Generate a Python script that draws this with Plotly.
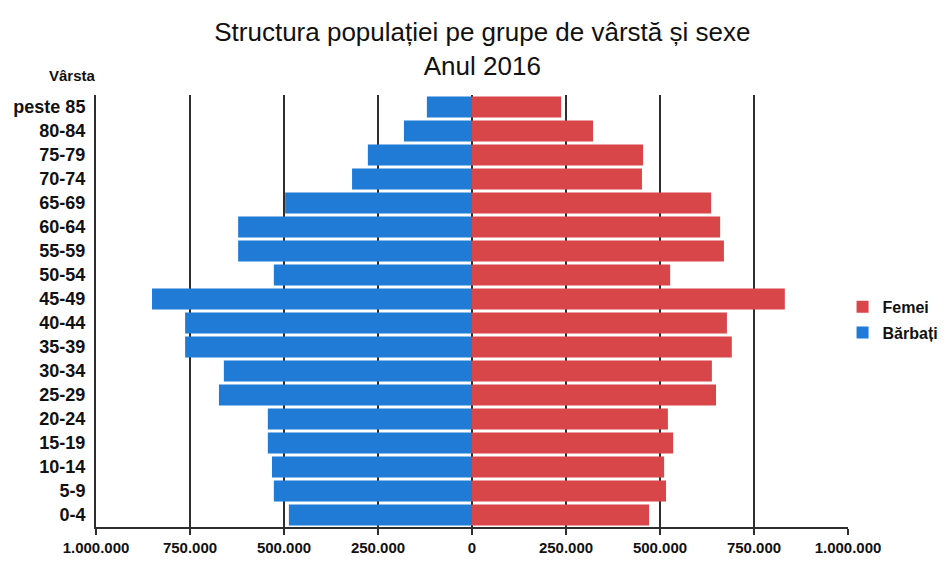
import plotly.graph_objects as go

# Age groups, bottom to top
age_groups = ["0-4", "5-9", "10-14", "15-19", "20-24", "25-29", "30-34", "35-39",
              "40-44", "45-49", "50-54", "55-59", "60-64", "65-69", "70-74",
              "75-79", "80-84", "peste 85"]

# Values (persons)
femei = [471000, 516000, 511000, 535000, 521000, 649000, 638000, 691000,
         678000, 832000, 527000, 670000, 660000, 636000, 452000,
         455000, 322000, 237000]
barbati = [487000, 527000, 532000, 543000, 543000, 673000, 660000, 763000,
           763000, 851000, 527000, 622000, 622000, 497000, 319000,
           277000, 181000, 120000]

tick_vals = [-1000000, -750000, -500000, -250000, 0, 250000, 500000, 750000, 1000000]
tick_text = ["1.000.000", "750.000", "500.000", "250.000", "0",
             "250.000", "500.000", "750.000", "1.000.000"]

fig = go.Figure()

fig.add_trace(go.Bar(
    y=age_groups,
    x=femei,
    orientation='h',
    name="Femei",
    legendgroup="f",
    marker=dict(color="#d9464a", line=dict(width=0)),
))

fig.add_trace(go.Bar(
    y=age_groups,
    x=[-v for v in barbati],
    orientation='h',
    name="Bărbați",
    legendgroup="b",
    marker=dict(color="#1f7bd6", line=dict(width=0)),
))

# page body has an 8px default margin, so the figure is sized to fit inside the window
fig.update_layout(
    barmode='relative',
    bargap=0.12,
    width=943,
    height=554,
    paper_bgcolor='white',
    plot_bgcolor='white',
    margin=dict(l=88, r=103, t=87, b=35, autoexpand=False),
    font=dict(family="Liberation Sans, Arial, sans-serif", color="#111111"),
    title=dict(
        text="Structura populației pe grupe de vârstă și sexe<br>Anul 2016",
        x=0.503, xanchor='center',
        y=0.94, yanchor='top',
        font=dict(size=26, color="#111111"),
    ),
    legend=dict(
        xref='container', yref='container',
        x=0.885, xanchor='left',
        y=0.437, yanchor='middle',
        font=dict(size=16, color="#111111", weight='bold'),
        traceorder='grouped',
        tracegroupgap=2,
        itemwidth=30,
        bgcolor='rgba(0,0,0,0)',
    ),
    xaxis=dict(
        range=[-1000000, 1000000],
        tickvals=tick_vals,
        ticktext=tick_text,
        tickfont=dict(size=15, weight='bold'),
        showgrid=True,
        gridcolor="#2e2e2e",
        gridwidth=2,
        zeroline=False,
        showline=True,
        linecolor="#2e2e2e",
        linewidth=2,
        ticks='outside',
        ticklen=6,
        tickwidth=2,
        tickcolor="#2e2e2e",
        automargin=False,
        fixedrange=True,
    ),
    yaxis=dict(
        tickfont=dict(size=18, weight='bold'),
        showgrid=False,
        zeroline=False,
        showline=True,
        linecolor="#2e2e2e",
        linewidth=2,
        ticks='',
        ticklabelstandoff=5,
        automargin=False,
        fixedrange=True,
    ),
    annotations=[dict(
        text="<b>Vârsta</b>",
        xref='paper', yref='paper',
        x=0.003, y=1.046,
        xanchor='right', yanchor='middle',
        showarrow=False,
        font=dict(size=15, color="#111111"),
    )],
)

fig.write_html("out.html")
